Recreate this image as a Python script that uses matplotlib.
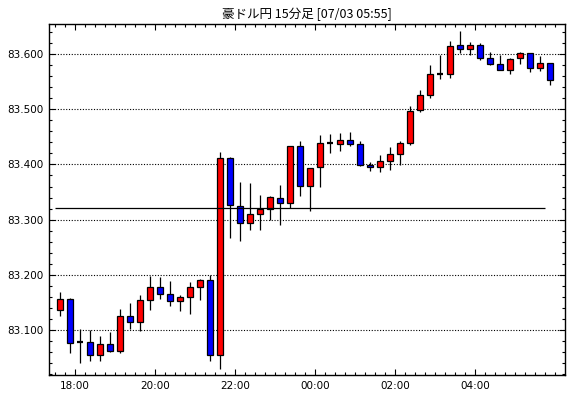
import matplotlib
matplotlib.use("Agg")
import matplotlib.pyplot as plt
from matplotlib.ticker import FixedLocator, MultipleLocator, FormatStrFormatter
import numpy as np

title = "豪ドル円 15分足 [07/03 05:55]"

opens = [83.136, 83.156, 83.078, 83.078, 83.055, 83.075, 83.062, 83.125, 83.114, 83.154,
         83.178, 83.165, 83.152, 83.160, 83.178, 83.191, 83.055, 83.412, 83.325, 83.294,
         83.310, 83.319, 83.339, 83.330, 83.433, 83.361, 83.395, 83.438, 83.437, 83.444,
         83.437, 83.399, 83.395, 83.406, 83.419, 83.439, 83.499, 83.526, 83.564, 83.564,
         83.616, 83.609, 83.616, 83.593, 83.582, 83.571, 83.593, 83.602, 83.575, 83.584]
highs = [83.169, 83.158, 83.102, 83.100, 83.090, 83.097, 83.138, 83.149, 83.164, 83.199,
         83.197, 83.189, 83.164, 83.187, 83.192, 83.200, 83.422, 83.414, 83.368, 83.367,
         83.345, 83.343, 83.363, 83.433, 83.442, 83.394, 83.454, 83.455, 83.457, 83.459,
         83.442, 83.404, 83.417, 83.432, 83.442, 83.506, 83.535, 83.580, 83.598, 83.624,
         83.642, 83.622, 83.620, 83.604, 83.598, 83.593, 83.604, 83.602, 83.596, 83.584]
lows = [83.125, 83.059, 83.041, 83.045, 83.044, 83.061, 83.059, 83.103, 83.099, 83.137,
        83.157, 83.143, 83.134, 83.130, 83.154, 83.045, 83.030, 83.266, 83.261, 83.282,
        83.282, 83.300, 83.291, 83.322, 83.343, 83.316, 83.359, 83.421, 83.425, 83.433,
        83.397, 83.388, 83.386, 83.390, 83.399, 83.435, 83.495, 83.520, 83.555, 83.556,
        83.602, 83.598, 83.589, 83.580, 83.570, 83.563, 83.582, 83.567, 83.569, 83.544]
closes = [83.156, 83.076, 83.078, 83.055, 83.075, 83.062, 83.125, 83.114, 83.154, 83.178,
          83.165, 83.152, 83.160, 83.178, 83.191, 83.055, 83.412, 83.326, 83.294, 83.310,
          83.320, 83.341, 83.330, 83.433, 83.361, 83.394, 83.439, 83.438, 83.444, 83.437,
          83.399, 83.395, 83.406, 83.419, 83.439, 83.497, 83.526, 83.564, 83.564, 83.615,
          83.609, 83.616, 83.593, 83.582, 83.571, 83.591, 83.602, 83.575, 83.584, 83.553]

ref_level = 83.321
time_labels = ["18:00", "20:00", "22:00", "00:00", "02:00", "04:00"]
first_label_bar = 2      # bar index starting at 18:00
bars_per_label = 8       # 2 hours of 15-minute bars

plt.rcParams['font.family'] = ['DejaVu Sans']

fig = plt.figure(figsize=(5.70, 3.98), dpi=100)
ax = fig.add_axes([49/570, 23/398, 516/570, 351/398])

n = len(opens)
x = np.arange(n)
o = np.array(opens); c = np.array(closes); h = np.array(highs); l = np.array(lows)

# wicks
ax.vlines(x, l, h, color='black', linewidth=0.9, zorder=2)

body_w = 0.62
for i in range(n):
    if abs(c[i] - o[i]) < 1e-9:
        ax.hlines(o[i], i - body_w/2, i + body_w/2, color='black', linewidth=1.6, zorder=3)
    else:
        col = '#ff0000' if c[i] > o[i] else '#0000ff'
        ax.bar(i, abs(c[i] - o[i]), bottom=min(o[i], c[i]), width=body_w,
               color=col, edgecolor='black', linewidth=0.9, zorder=3)

# reference level line
ax.hlines(ref_level, -0.5, n - 1.5, color='black', linewidth=0.9, zorder=4)

ax.set_xlim(-1.1, n + 0.5)
ax.set_ylim(83.019, 83.654)

major_x = [first_label_bar - 0.5 + bars_per_label * k for k in range(len(time_labels))]
ax.xaxis.set_major_locator(FixedLocator(major_x))
ax.set_xticklabels(time_labels)
ax.xaxis.set_minor_locator(FixedLocator(np.arange(-0.5, n + 0.5, 1.0)))

ax.yaxis.set_major_locator(MultipleLocator(0.1))
ax.yaxis.set_minor_locator(MultipleLocator(0.02))
ax.yaxis.set_major_formatter(FormatStrFormatter('%.3f'))

ax.grid(axis='y', which='major', color='black', linestyle=(0, (1, 1.5)), linewidth=0.8)
ax.set_axisbelow(True)

ax.tick_params(which='both', direction='in', top=True, right=True, labelsize=7.5,
               colors='black', width=0.8)
ax.tick_params(which='major', length=4, pad=4)
ax.tick_params(which='minor', length=2)

for s in ax.spines.values():
    s.set_linewidth(1.0)
    s.set_color('black')

ax.set_title(title, fontsize=9, pad=4,
             family=['Noto Sans CJK JP', 'DejaVu Sans'])

fig.savefig("out.png", dpi=100)
